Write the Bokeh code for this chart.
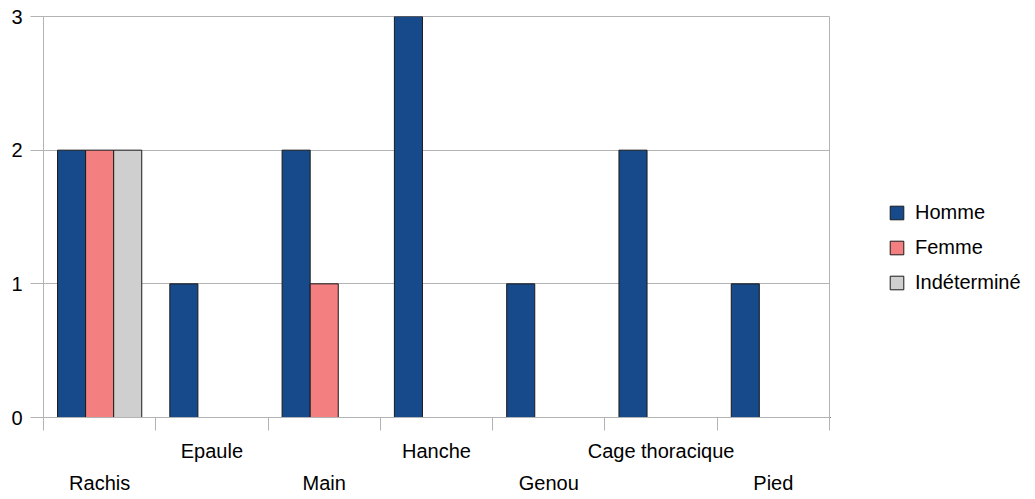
from bokeh.plotting import figure
from bokeh.layouts import row
from bokeh.models import (Range1d, LinearAxis, FixedTicker, Legend, LegendItem,
                          ColumnDataSource, Grid)
from bokeh.embed import file_html
from bokeh.resources import INLINE

categories = ["Rachis", "Epaule", "Main", "Hanche", "Genou", "Cage thoracique", "Pied"]
series_names = ["Homme", "Femme", "Indéterminé"]
homme = [2, 1, 2, 3, 1, 2, 1]
femme = [2, 0, 1, 0, 0, 0, 0]
indet = [2, 0, 0, 0, 0, 0, 0]
y_ticks = [0, 1, 2, 3]

colors = ["#174a8a", "#f47f80", "#cfcfcf"]
FONT = "Liberation Sans"
GRAY = "#b3b3b3"
OUTLINE = "#1a1a1a"

n = len(categories)
p = figure(width=830, height=499, output_backend="svg", toolbar_location=None,
           x_range=Range1d(0, n), y_range=Range1d(0, 3),
           x_axis_type=None, y_axis_type=None,
           min_border_left=43, min_border_right=1, min_border_top=16,
           min_border_bottom=82)
p.outline_line_color = GRAY
p.xgrid.visible = False
p.background_fill_color = "white"
p.border_fill_color = "white"

yax = LinearAxis(ticker=FixedTicker(ticks=y_ticks))
yax.axis_line_color = GRAY
yax.major_tick_line_color = GRAY
yax.major_tick_out = 13
yax.major_tick_in = 0
yax.minor_tick_line_color = None
yax.major_label_text_font = FONT
yax.major_label_text_font_size = "20px"
yax.major_label_text_color = "black"
yax.major_label_standoff = 8
p.add_layout(yax, "left")
p.add_layout(Grid(dimension=1, ticker=yax.ticker, grid_line_color=GRAY))

bounds = list(range(n + 1))
xax0 = LinearAxis(ticker=FixedTicker(ticks=bounds))
xax0.major_label_overrides = {b: "" for b in bounds}
xax0.major_label_text_font_size = "1px"
xax0.major_label_standoff = 0
xax0.axis_line_color = GRAY
xax0.major_tick_line_color = GRAY
xax0.major_tick_out = 13
xax0.major_tick_in = 0
xax0.minor_tick_line_color = None
p.add_layout(xax0, "below")

centers = [i + 0.5 for i in range(n)]
rows = [[c for i, c in enumerate(centers) if i % 2 == 1],
        [c for i, c in enumerate(centers) if i % 2 == 0]]
standoffs = [3, 1]
for row_ticks, so in zip(rows, standoffs):
    ax = LinearAxis(ticker=FixedTicker(ticks=row_ticks))
    ax.major_label_overrides = {c: categories[int(c)] for c in row_ticks}
    ax.axis_line_color = None
    ax.major_tick_line_color = None
    ax.minor_tick_line_color = None
    ax.major_label_text_font = FONT
    ax.major_label_text_font_size = "20px"
    ax.major_label_text_color = "black"
    ax.major_label_standoff = so
    p.add_layout(ax, "below")

bw = 0.25
for k, (vals, col) in enumerate(zip([homme, femme, indet], colors)):
    xs = [i + 0.25 + k * bw for i, v in enumerate(vals) if v > 0]
    ys = [v for v in vals if v > 0]
    src = ColumnDataSource(dict(x=xs, top=ys))
    p.vbar(x="x", top="top", width=bw, source=src, fill_color=col,
           line_color=OUTLINE, line_width=1)

# legend panel (its proxy glyphs sit outside its visible range)
pl = figure(width=205, height=499, output_backend="svg", toolbar_location=None,
            x_range=Range1d(0, 1), y_range=Range1d(0, 1),
            x_axis_type=None, y_axis_type=None,
            min_border_left=0, min_border_right=0, min_border_top=0,
            min_border_bottom=0)
pl.outline_line_color = None
pl.xgrid.visible = False
pl.ygrid.visible = False
items = []
for name, col in zip(series_names, colors):
    r = pl.vbar(x=[-10], top=[0], width=0.25, fill_color=col, line_color=OUTLINE,
                line_width=1)
    items.append(LegendItem(label=name, renderers=[r]))

legend = Legend(items=items, location=(58, 123), orientation="vertical")
legend.border_line_color = None
legend.background_fill_alpha = 0
legend.padding = 0
legend.margin = 0
legend.glyph_width = 17
legend.glyph_height = 17
legend.label_height = 17
legend.spacing = 12
legend.label_standoff = 10
legend.label_text_font = FONT
legend.label_text_font_size = "20px"
legend.label_text_color = "black"
legend.label_text_baseline = "middle"
pl.add_layout(legend)

layout = row(p, pl, spacing=0)
open("out.html", "w").write(file_html(layout, INLINE))
